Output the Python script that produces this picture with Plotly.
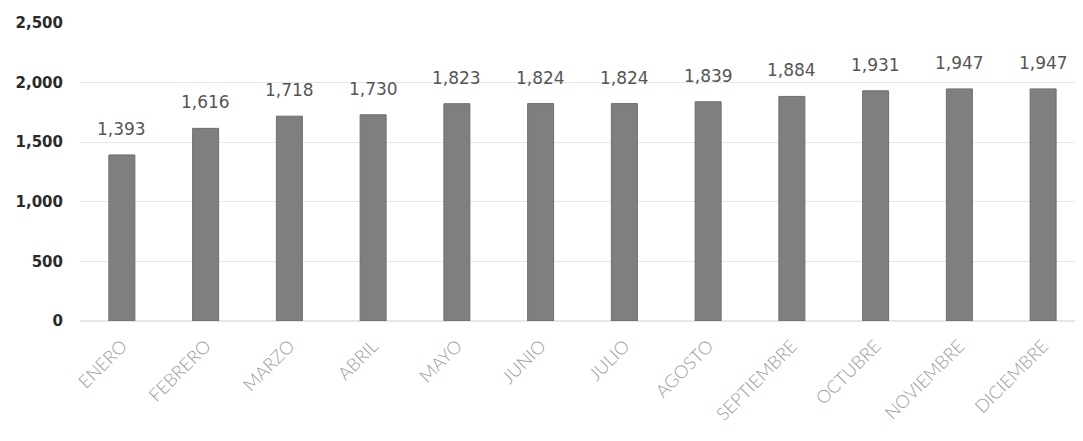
import plotly.graph_objects as go

months = ["ENERO", "FEBRERO", "MARZO", "ABRIL", "MAYO", "JUNIO", "JULIO",
          "AGOSTO", "SEPTIEMBRE", "OCTUBRE", "NOVIEMBRE", "DICIEMBRE"]
values = [1393, 1616, 1718, 1730, 1823, 1824, 1824, 1839, 1884, 1931, 1947, 1947]
y_ticks = [0, 500, 1000, 1500, 2000, 2500]

fig = go.Figure()
fig.add_trace(go.Bar(
    x=months, y=values,
    marker=dict(color="#7f7f7f", line=dict(color="#6e6e6e", width=1)),
    width=0.31,
))
for m, v in zip(months, values):
    fig.add_annotation(x=m, y=v, text=f"{v:,}", showarrow=False,
                       yanchor="bottom", yshift=14,
                       font=dict(family="DejaVu Sans, Liberation Sans", size=17, color="#555555"))

fig.update_layout(
    width=1083, height=441,
    margin=dict(l=72, r=6, t=12, b=128),
    paper_bgcolor="white", plot_bgcolor="white",
    showlegend=False,
    xaxis=dict(tickangle=-45, tickfont=dict(family="Lato, DejaVu Sans", size=18, color="#9c9c9c", weight=300),
               showgrid=False, showline=False, ticks="", ticklabelstandoff=10),
    yaxis=dict(range=[0, 2500], tickvals=y_ticks, tickformat=",",
               tickfont=dict(family="DejaVu Sans, Liberation Sans", size=15, color="#2a2a2a", weight="bold"),
               gridcolor="#e6e6e6", gridwidth=1, zeroline=True, zerolinecolor="#e6e6e6",
               ticklabelstandoff=16),
)
fig.write_html("out.html")
